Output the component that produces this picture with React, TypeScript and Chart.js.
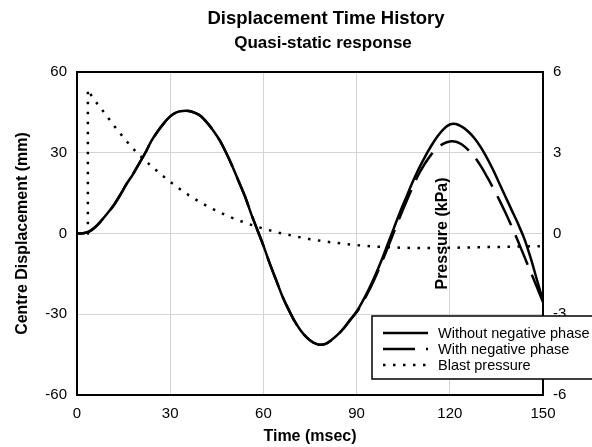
import React, { useEffect, useRef } from "react";
import { Chart, registerables } from "chart.js";

Chart.register(...registerables);

const FONT = "'Liberation Sans', Arial, Helvetica, sans-serif";

const titleText = "Displacement Time History";
const subtitleText = "Quasi-static response";
const xAxisTitle = "Time (msec)";
const yAxisTitle = "Centre Displacement (mm)";
const y2AxisTitle = "Pressure (kPa)";

const seriesLabels = ["Without negative phase", "With negative phase", "Blast pressure"];

const timeMs = [
  0, 2, 4, 6, 8, 10, 12, 14, 16, 18, 20, 22, 24, 26, 28, 30, 32, 34, 36, 38,
  40, 42, 44, 46, 48, 50, 52, 54, 56, 58, 60, 62, 64, 66, 68, 70, 72, 74, 76, 78,
  80, 82, 84, 86, 88, 90, 92, 94, 96, 98, 100, 102, 104, 106, 108, 110, 112, 114, 116, 118,
  120, 122, 124, 126, 128, 130, 132, 134, 136, 138, 140, 142, 144, 146, 148, 150,
];

const withoutNegativePhase = [
  0, 0.1, 0.8, 2.5, 5, 7.8, 10.8, 14.5, 18.5, 22, 26, 30, 34.5, 38, 41, 43.5, 45, 45.5, 45.5, 44.8,
  43.5, 41, 38, 34.5, 30, 25, 19.5, 14, 7.5, 1.5, -4.5, -11, -17, -23, -28, -32.5, -36, -38.7, -40.5, -41.3,
  -41, -39.5, -37.5, -35, -32, -29, -25, -20.5, -15.5, -10, -4, 2, 8, 13.5, 19, 24, 28.5, 32.5, 36, 38.8,
  40.5, 40.7, 39.6, 37.8, 35.3, 32, 28, 23.5, 18.5, 13.5, 8.5, 3.5, -2, -9, -17, -25,
];

const withNegativePhase = [
  0, 0.1, 0.8, 2.5, 5, 7.8, 10.8, 14.5, 18.5, 22, 26, 30, 34.5, 38, 41, 43.5, 45, 45.5, 45.5, 44.8,
  43.5, 41, 38, 34.5, 30, 25, 19.5, 14, 7.5, 1.5, -4.5, -11, -17, -23, -28, -32.5, -36, -38.7, -40.5, -41.3,
  -41, -39.5, -37.5, -35, -32, -29.3, -25.5, -21.2, -16.3, -11, -5.3, 0.5, 6.3, 11.8, 17.2, 22, 26, 29.3, 31.8, 33.4,
  34.2, 34.1, 33, 31, 28.4, 25, 21, 16.8, 12.3, 7.5, 2.4, -3, -8.6, -14.2, -19.8, -25.5,
];

const pressureTime = [
  0, 3.5, 3.5, 5, 7.5, 10, 12.5, 15, 17.5, 20, 22.5, 25, 27.5, 30, 32.5, 35, 37.5, 40, 42.5, 45,
  47.5, 50, 52.5, 55, 57.5, 60, 65, 70, 75, 80, 85, 90, 95, 100, 105, 110, 115, 120, 125, 130,
  135, 140, 145, 149,
];

const blastPressure = [
  0, 0, 5.35, 5.05, 4.68, 4.3, 3.92, 3.56, 3.22, 2.92, 2.65, 2.4, 2.15, 1.92, 1.7, 1.5, 1.31, 1.14, 0.98, 0.84,
  0.7, 0.58, 0.47, 0.36, 0.27, 0.18, 0.03, -0.1, -0.21, -0.3, -0.37, -0.43, -0.48, -0.51, -0.53, -0.54, -0.54, -0.53, -0.52, -0.51,
  -0.5, -0.49, -0.48, -0.47,
];

const xRange = [0, 150, 30];
const yRange = [-60, 60, 30];
const y2Range = [-6, 6, 3];

const frameAndTextPlugin = {
  id: "frameAndText",
  afterDatasetsDraw(chart: any) {
    const { ctx, chartArea } = chart;
    ctx.save();
    ctx.strokeStyle = "#000";
    ctx.lineWidth = 2;
    ctx.strokeRect(chartArea.left, chartArea.top, chartArea.right - chartArea.left, chartArea.bottom - chartArea.top);
    ctx.fillStyle = "#000";
    ctx.textAlign = "center";
    ctx.textBaseline = "middle";
    // chart title + subtitle
    ctx.font = `bold 18.5px ${FONT}`;
    ctx.fillText(titleText, 326, 19);
    ctx.font = `bold 17px ${FONT}`;
    ctx.fillText(subtitleText, 323, 43);
    // right axis title (drawn inside plot as in reference)
    ctx.translate(443, (chartArea.top + chartArea.bottom) / 2);
    ctx.rotate(-Math.PI / 2);
    ctx.font = `bold 16px ${FONT}`;
    ctx.fillText(y2AxisTitle, 0, 0);
    ctx.restore();
  },
  afterDraw(chart: any) {
    const { ctx } = chart;
    const bx = 372, by = 316, bw = 232, bh = 63;
    ctx.save();
    ctx.fillStyle = "#fff";
    ctx.fillRect(bx, by, bw, bh);
    ctx.strokeStyle = "#000";
    ctx.lineWidth = 1.5;
    ctx.strokeRect(bx, by, bw, bh);
    ctx.font = `14.5px ${FONT}`;
    ctx.textBaseline = "middle";
    ctx.textAlign = "left";
    const rowY = [333, 349, 365];
    chart.data.datasets.forEach((ds: any, i: number) => {
      const y = rowY[i];
      ctx.beginPath();
      ctx.setLineDash(ds.borderDash || []);
      ctx.lineWidth = ds.borderWidth;
      ctx.strokeStyle = ds.borderColor;
      ctx.moveTo(383, y);
      ctx.lineTo(428, y);
      ctx.stroke();
      ctx.setLineDash([]);
      ctx.fillStyle = "#000";
      ctx.fillText(ds.label, 438, y + 0.5);
    });
    ctx.restore();
  },
};

export default function App() {
  const canvasRef = useRef<HTMLCanvasElement | null>(null);

  useEffect(() => {
    if (!canvasRef.current) return;
    const toXY = (xs: number[], ys: number[]) => xs.map((x, i) => ({ x, y: ys[i] }));
    const tickFont = { family: FONT, size: 15 };
    const titleFont = { family: FONT, size: 16, weight: "bold" as const };
    const chart = new Chart(canvasRef.current, {
      type: "line",
      data: {
        datasets: [
          {
            label: seriesLabels[0],
            data: toXY(timeMs, withoutNegativePhase),
            borderColor: "#000",
            borderWidth: 2.5,
            pointRadius: 0,
            tension: 0.3,
            fill: false,
            yAxisID: "y",
          },
          {
            label: seriesLabels[1],
            data: toXY(timeMs, withNegativePhase),
            borderColor: "#000",
            borderWidth: 2.5,
            borderDash: [32, 11],
            pointRadius: 0,
            tension: 0.3,
            fill: false,
            yAxisID: "y",
          },
          {
            label: seriesLabels[2],
            data: toXY(pressureTime, blastPressure),
            borderColor: "#000",
            borderWidth: 2.5,
            borderDash: [2.5, 7.5],
            pointRadius: 0,
            tension: 0,
            fill: false,
            yAxisID: "y2",
          },
        ],
      },
      options: {
        animation: false,
        responsive: false,
        maintainAspectRatio: false,
        layout: { padding: { top: 72, left: 0, right: 0, bottom: 0 } },
        plugins: {
          legend: { display: false },
          tooltip: { enabled: false },
          title: { display: false },
        },
        scales: {
          x: {
            type: "linear",
            min: xRange[0],
            max: xRange[1],
            afterFit: (s: any) => { s.height = 52; },
            ticks: { stepSize: xRange[2], color: "#000", font: tickFont, padding: 10, maxRotation: 0 },
            grid: { color: "#d4d4d4", lineWidth: 1, drawTicks: false },
            border: { display: false },
            title: { display: true, text: xAxisTitle, color: "#000", font: titleFont, padding: { top: 0, bottom: 0.5 } },
          },
          y: {
            type: "linear",
            position: "left",
            min: yRange[0],
            max: yRange[1],
            afterFit: (s: any) => { s.width = 77; },
            ticks: { stepSize: yRange[2], color: "#000", font: tickFont, padding: 10 },
            grid: { color: "#d4d4d4", lineWidth: 1, drawTicks: false },
            border: { display: false },
            title: { display: true, text: yAxisTitle, color: "#000", font: titleFont, padding: { top: 13, bottom: 0 } },
          },
          y2: {
            type: "linear",
            position: "right",
            min: y2Range[0],
            max: y2Range[1],
            afterFit: (s: any) => { s.width = 49; },
            ticks: { stepSize: y2Range[2], color: "#000", font: tickFont, padding: 10 },
            grid: { drawOnChartArea: false, drawTicks: false },
            border: { display: false },
          },
        },
      },
      plugins: [frameAndTextPlugin],
    });
    return () => chart.destroy();
  }, []);

  return (
    <div style={{ position: "absolute", left: 0, top: 0, width: 592, height: 447, background: "#fff" }}>
      <canvas ref={canvasRef} width={592} height={447} style={{ display: "block", width: 592, height: 447 }} />
    </div>
  );
}
